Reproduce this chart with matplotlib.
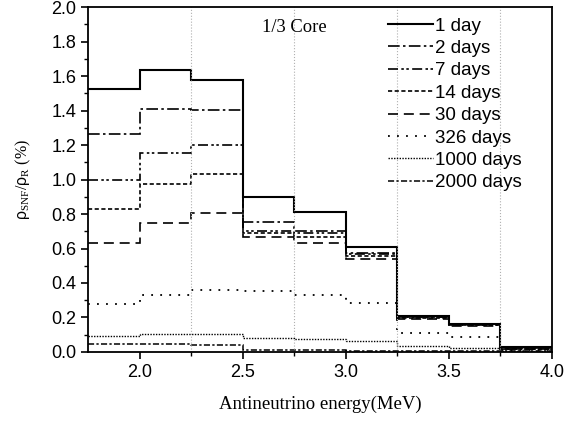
import numpy as np
import matplotlib
matplotlib.use('Agg')
import matplotlib.pyplot as plt

# bin edges (MeV)
edges = [1.75, 2.0, 2.25, 2.5, 2.75, 3.0, 3.25, 3.5, 3.75, 4.0]

labels = ["1 day", "2 days", "7 days", "14 days", "30 days",
          "326 days", "1000 days", "2000 days"]

day1 = [1.523, 1.635, 1.577, 0.90, 0.81, 0.609, 0.21, 0.162, 0.03]
day2 = [1.267, 1.412, 1.405, 0.755, 0.70, 0.575, 0.205, 0.16, 0.022]
day7 = [0.997, 1.152, 1.20, 0.70, 0.69, 0.57, 0.20, 0.158, 0.02]
day14 = [0.827, 0.974, 1.03, 0.688, 0.665, 0.555, 0.198, 0.155, 0.02]
day30 = [0.63, 0.748, 0.804, 0.665, 0.63, 0.537, 0.19, 0.15, 0.018]
day326 = [0.276, 0.33, 0.36, 0.354, 0.33, 0.282, 0.112, 0.089, 0.01]
day1000 = [0.095, 0.106, 0.106, 0.083, 0.077, 0.064, 0.035, 0.025, 0.005]
day2000 = [0.046, 0.046, 0.042, 0.012, 0.01, 0.008, 0.008, 0.006, 0.003]

series = [day1, day2, day7, day14, day30, day326, day1000, day2000]
styles = [
    ('-', 1.5),
    ((0, (7, 2, 1.5, 2)), 1.2),
    ((0, (6, 2, 1.5, 1.5, 1.5, 2)), 1.2),
    ((0, (2.5, 1.5)), 1.2),
    ((0, (6, 3.5)), 1.2),
    ((0, (1, 4)), 1.3),
    ((0, (1, 1)), 1.0),
    ((0, (4, 1.5, 1.5, 1.5)), 1.1),
]

plt.rcParams['mathtext.fontset'] = 'custom'
plt.rcParams['mathtext.rm'] = 'Liberation Serif'
plt.rcParams['mathtext.sf'] = 'Liberation Sans'
plt.rcParams['mathtext.it'] = 'Liberation Serif:italic'

fig = plt.figure(figsize=(5.65, 4.21), dpi=100)
ax = fig.add_axes([0.156, 0.164, 0.821, 0.819])

for vals, lab, (ls, lw) in zip(series, labels, styles):
    ax.stairs(vals, edges, baseline=None, color='black', linestyle=ls,
              linewidth=lw, label=lab)

ax.set_xlim(1.75, 4.0)
ax.set_ylim(0, 2.0)
ax.set_xticks([2.0, 2.5, 3.0, 3.5, 4.0])
ax.set_xticks([2.25, 2.75, 3.25, 3.75], minor=True)
ax.set_yticks(np.arange(0, 2.01, 0.2))
ax.set_yticks(np.arange(0, 2.01, 0.1), minor=True)
ax.set_xticklabels(['2.0', '2.5', '3.0', '3.5', '4.0'], fontsize=13,
                   family='Liberation Sans')
ax.set_yticklabels(['%.1f' % v for v in np.arange(0, 2.01, 0.2)],
                   fontsize=13, family='Liberation Sans')
ax.tick_params(which='major', direction='out', length=5, width=1.2)
ax.tick_params(which='minor', direction='out', length=3, width=1)
ax.grid(True, which='minor', axis='x', color='#b0b0b0', linestyle=':',
        linewidth=0.8)
for sp in ax.spines.values():
    sp.set_linewidth(1.3)

ax.set_xlabel('Antineutrino energy(MeV)', family='Liberation Serif',
              fontsize=13.5, labelpad=11)
ax.set_ylabel(r'$\mathsf{\rho}_{\mathrm{SNF}}/\mathsf{\rho}_{\mathrm{R}}$ (%)',
              family='Liberation Serif', fontsize=11.5, labelpad=13)

ax.text(2.595, 1.88, '1/3 Core', family='Liberation Serif', fontsize=13.3,
        va='center')

leg = ax.legend(loc='upper left', frameon=False, handlelength=2.4,
                handletextpad=0.1, labelspacing=0.28,
                prop={'family': 'Liberation Sans', 'size': 13.5},
                bbox_to_anchor=(0.647, 0.97), borderaxespad=0.0,
                borderpad=0.0)

fig.savefig('out.png', dpi=100)
